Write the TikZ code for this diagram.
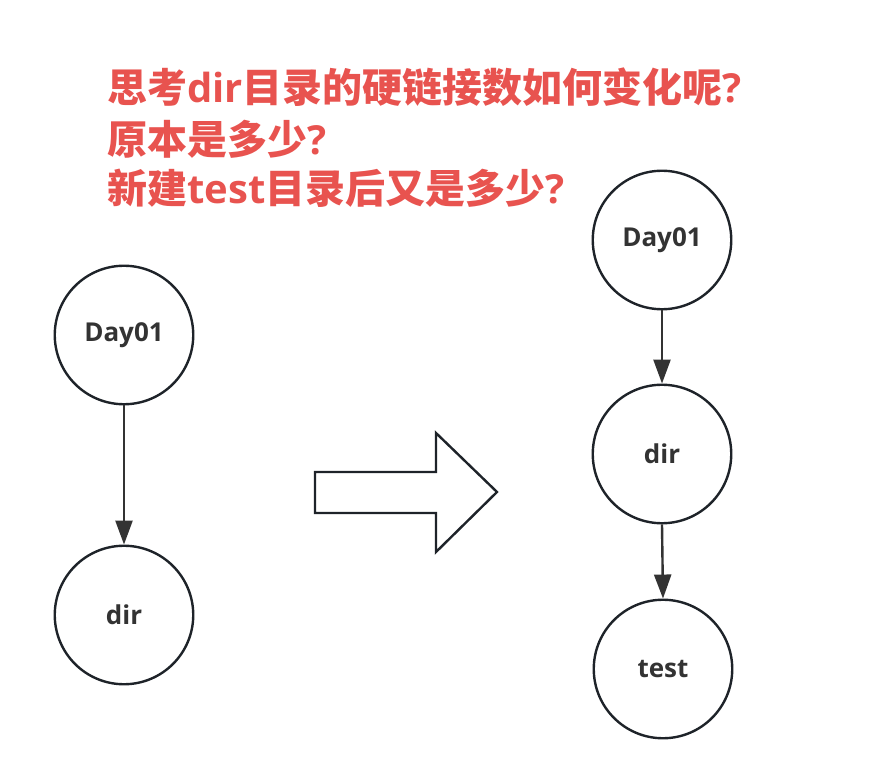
\documentclass[tikz,border=0pt]{standalone}
\usepackage{fontspec}
\setmainfont{Open Sans}
\newfontfamily\cjk{Noto Sans CJK SC}
\newfontfamily\latfont{Open Sans}
\usetikzlibrary{arrows.meta}
\definecolor{titlered}{RGB}{232,83,79}
\definecolor{ringcol}{RGB}{30,35,41}
\definecolor{labelcol}{RGB}{51,51,51}
\definecolor{edgecol}{RGB}{51,51,51}
\newcommand{\latpart}[1]{{\latfont\bfseries #1}}
\tikzset{
  dirnode/.style={circle, draw=ringcol, line width=2.4pt, minimum size=138.5pt, inner sep=0pt,
    text=labelcol, font=\bfseries\fontsize{26}{31}\selectfont},
  edge/.style={draw=edgecol, line width=2.4pt, -{Triangle[length=24pt,width=17pt]}},
  titleline/.style={anchor=base west, inner sep=0pt, text=titlered,
    font=\cjk\bfseries\fontsize{40}{48}\selectfont},
  bigarrow/.style={draw=ringcol, line width=2.4pt, line join=miter, fill=white}
}
\begin{document}
\begin{tikzpicture}[x=1pt,y=-1pt]
\useasboundingbox (0,0) rectangle (876,783);
\node[titleline] (t1) at (107,103) {思考\latpart{dir}目录的硬链接数如何变化呢\latpart{?}};
\node[titleline] (t2) at (107,155) {原本是多少\latpart{?}};
\node[titleline] (t3) at (107,204) {新建\latpart{test}目录后又是多少\latpart{?}};

\node[dirnode] (dayL) at (124,335) {Day01};
\node[dirnode] (dirL) at (124,615) {dir};
\draw[edge] (dayL.south) -- (dirL.north);

\node[dirnode] (dayR) at (662,240) {Day01};
\node[dirnode] (dirR) at (662,454) {dir};
\node[dirnode] (testR) at (663,669) {test};
\draw[edge] (dayR.south) -- (dirR.north);
\draw[edge] (dirR.south) -- (testR.north);

\draw[bigarrow] (315,472) -- (436,472) -- (436,433) -- (497,492) -- (436,552) -- (436,513) -- (315,513) -- cycle;
\end{tikzpicture}
\end{document}
